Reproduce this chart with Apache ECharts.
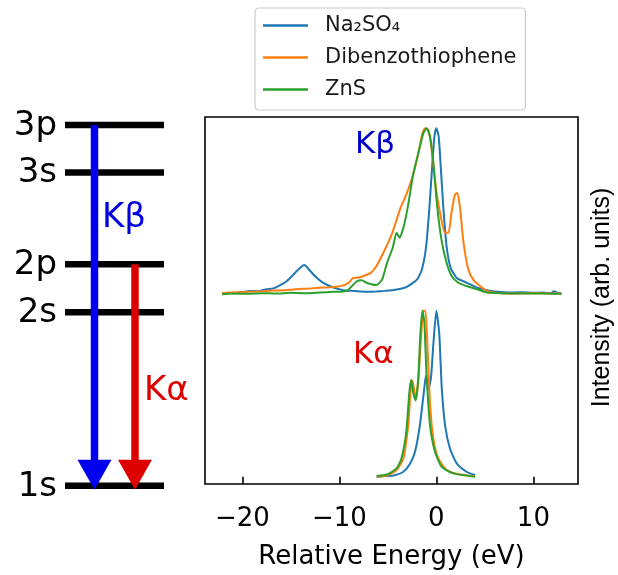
<!DOCTYPE html>
<html>
<head>
<meta charset="utf-8">
<script src="https://cdn.jsdelivr.net/npm/echarts@6/dist/echarts.min.js"></script>
<style>
  html, body { margin: 0; padding: 0; background: #fff; }
  #chart { width: 618px; height: 575px; }
</style>
</head>
<body>
<div id="chart"></div>
<script>
// Sulfur K-shell emission: Kβ spectra are stacked above the Kα spectra.
const seriesNames = ['Na\u2082SO\u2084', 'Dibenzothiophene', 'ZnS'];
const seriesColors = ['#1f77b4', '#ff7f0e', '#2ca02c'];
const xTicks = [-20, -10, 0, 10];
const kbOffset = 1.1;

// Kβ spectra (normalised intensity)
const naKbE = [-22.1, -21.5, -20.8, -20.0, -19.2, -18.4, -17.5, -16.8, -16.1, -15.4, -14.7, -14.1, -13.6, -13.2, -12.5, -11.7, -10.6, -9.6, -8.7, -7.9, -7.0, -6.2, -5.3, -4.4, -3.1, -2.0, -1.5, -1.07, -0.72, -0.41, -0.2, 0, 0.24, 0.45, 0.72, 1.07, 1.48, 2.1, 2.8, 3.5, 4.2, 5.2, 6.6, 8.0, 9.0, 10.0, 11.0, 11.8, 12.1, 12.5, 12.9];
const naKbI = [0.004, 0.008, 0.006, 0.012, 0.02, 0.018, 0.03, 0.035, 0.055, 0.08, 0.12, 0.157, 0.176, 0.153, 0.108, 0.07, 0.04, 0.024, 0.02, 0.016, 0.014, 0.016, 0.02, 0.025, 0.043, 0.088, 0.147, 0.28, 0.52, 0.79, 0.95, 1.0, 0.95, 0.77, 0.52, 0.28, 0.157, 0.098, 0.078, 0.059, 0.039, 0.024, 0.014, 0.01, 0.012, 0.008, 0.01, 0.006, 0.018, 0.008, 0.004];

const dbtKbE = [-22.1, -21.0, -19.2, -17.5, -15.8, -14.5, -13.0, -11.8, -10.6, -9.6, -9.0, -8.6, -8.0, -7.5, -6.8, -6.2, -5.5, -4.6, -3.7, -3.1, -2.4, -1.86, -1.44, -1.17, -0.82, -0.48, 0, 0.55, 0.9, 1.24, 1.58, 1.92, 2.16, 2.44, 2.78, 3.3, 3.8, 4.5, 5.2, 6.6, 8.0, 10.0, 12.0, 12.9];
const dbtKbI = [0.006, 0.01, 0.014, 0.02, 0.024, 0.03, 0.035, 0.04, 0.043, 0.053, 0.07, 0.098, 0.1, 0.11, 0.127, 0.167, 0.245, 0.36, 0.52, 0.6, 0.72, 0.85, 0.97, 1.0, 0.99, 0.87, 0.62, 0.44, 0.37, 0.37, 0.5, 0.6, 0.61, 0.52, 0.32, 0.147, 0.088, 0.049, 0.02, 0.006, 0.004, 0.006, 0.004, 0.004];

const znsKbE = [-22.1, -21.0, -19.5, -18.0, -16.5, -15.0, -13.5, -12.0, -10.6, -9.6, -9.1, -8.7, -8.2, -7.7, -7.2, -6.6, -6.2, -5.6, -5.1, -4.5, -4.1, -3.8, -3.4, -2.9, -2.4, -1.86, -1.34, -1.0, -0.65, -0.31, 0.1, 0.55, 1.07, 1.58, 2.27, 3.1, 4.2, 5.2, 7.0, 9.0, 11.0, 12.9];
const znsKbI = [0.0, 0.004, 0.002, 0.006, 0.004, 0.008, 0.006, 0.01, 0.014, 0.016, 0.025, 0.049, 0.078, 0.084, 0.069, 0.058, 0.055, 0.088, 0.186, 0.28, 0.37, 0.34, 0.4, 0.54, 0.72, 0.85, 0.97, 1.0, 0.95, 0.79, 0.52, 0.32, 0.186, 0.108, 0.069, 0.049, 0.03, 0.01, 0.006, 0.004, 0.004, 0.002];

// Kα spectra (normalised intensity)
const naKaE = [-6.15, -5.2, -4.4, -3.4, -2.7, -2.2, -1.7, -1.27, -1.07, -0.8, -0.55, -0.31, 0, 0.3, 0.55, 0.9, 1.4, 2.1, 3.1, 4.0];
const naKaI = [0, 0.004, 0.007, 0.03, 0.08, 0.15, 0.31, 0.52, 0.61, 0.53, 0.6, 0.8, 1.0, 0.86, 0.54, 0.31, 0.17, 0.08, 0.03, 0.01];

const dbtKaE = [-6.15, -5.1, -4.1, -3.4, -2.9, -2.65, -2.47, -2.27, -2.1, -1.86, -1.58, -1.34, -1.13, -0.93, -0.65, -0.31, 0.2, 1.07, 2.44, 4.0];
const dbtKaI = [0, 0.007, 0.04, 0.11, 0.31, 0.52, 0.58, 0.52, 0.47, 0.58, 0.84, 1.0, 1.0, 0.8, 0.44, 0.23, 0.11, 0.04, 0.013, 0.003];

const znsKaE = [-6.15, -5.1, -4.1, -3.6, -3.1, -2.8, -2.6, -2.37, -2.13, -1.86, -1.65, -1.44, -1.24, -1.0, -0.65, -0.14, 0.55, 1.75, 4.0];
const znsKaI = [0.004, 0.013, 0.05, 0.11, 0.27, 0.5, 0.585, 0.5, 0.46, 0.6, 0.86, 1.0, 0.93, 0.6, 0.31, 0.15, 0.06, 0.02, 0];

// Energy-level diagram
const levelNames = ['1s', '2s', '2p', '3s', '3p'];
const levelEnergy = [0, 0.481, 0.614, 0.868, 1];
const transitionNames = ['K\u03b2', 'K\u03b1'];
const transitionFrom = [1, 0.614];
const transitionTo = [0, 0];
const transitionPos = [0.298, 0.707];
const transitionColors = ['#0000ee', '#dd0000'];

const FONT = '"DejaVu Sans", sans-serif';

function zipXY(xs, ys, offset) {
  return xs.map((x, i) => [x, ys[i] + offset]);
}

const spectra = [
  [naKbE, naKbI, naKaE, naKaI],
  [dbtKbE, dbtKbI, dbtKaE, dbtKaI],
  [znsKbE, znsKbI, znsKaE, znsKaI]
];

const lineSeries = [];
spectra.forEach((s, k) => {
  const common = {
    type: 'line',
    name: seriesNames[k],
    xAxisIndex: 0,
    yAxisIndex: 0,
    showSymbol: false,
    symbol: 'none',
    smooth: 0.2,
    lineStyle: { color: seriesColors[k], width: 2 },
    itemStyle: { color: seriesColors[k] },
    animation: false,
    z: 2 + k
  };
  lineSeries.push(Object.assign({}, common, { data: zipXY(s[0], s[1], kbOffset) }));
  lineSeries.push(Object.assign({}, common, { data: zipXY(s[2], s[3], 0) }));
});

const levelSeries = {
  type: 'custom',
  xAxisIndex: 1,
  yAxisIndex: 1,
  animation: false,
  silent: true,
  z: 1,
  data: levelEnergy.map(e => [0.5, e]),
  renderItem: (params, api) => {
    const e = api.value(1);
    const a = api.coord([0, e]);
    const b = api.coord([1, e]);
    return {
      type: 'group',
      children: [
        { type: 'line', shape: { x1: a[0], y1: a[1], x2: b[0], y2: b[1] },
          style: { stroke: '#000', lineWidth: 6.5 } },
        { type: 'text', x: a[0] - 8, y: a[1] + 1,
          style: { text: levelNames[params.dataIndex], fontSize: 34, fontFamily: FONT,
                   fill: '#000', align: 'right', verticalAlign: 'middle' } }
      ]
    };
  }
};

const arrowSeries = {
  type: 'custom',
  xAxisIndex: 1,
  yAxisIndex: 1,
  animation: false,
  silent: true,
  z: 5,
  data: transitionPos.map((x, i) => [x, transitionFrom[i], transitionTo[i]]),
  renderItem: (params, api) => {
    const c = transitionColors[params.dataIndex];
    const top = api.coord([api.value(0), api.value(1)]);
    const bot = api.coord([api.value(0), api.value(2)]);
    const x = top[0];
    const tip = bot[1] + 4;
    const headH = 30, headW = 34;
    return {
      type: 'group',
      children: [
        { type: 'line', shape: { x1: x, y1: top[1], x2: x, y2: tip - headH + 2 },
          style: { stroke: c, lineWidth: 7.5 } },
        { type: 'polygon', shape: { points: [[x - headW / 2, tip - headH], [x + headW / 2, tip - headH], [x, tip]] },
          style: { fill: c } }
      ]
    };
  }
};

const chart = echarts.init(document.getElementById('chart'), null, { renderer: 'canvas' });
chart.setOption({
  animation: false,
  backgroundColor: '#fff',
  grid: [
    { left: 205, right: 40, top: 117, bottom: 82, show: true, borderColor: '#000', borderWidth: 1.6,
      backgroundColor: 'transparent' },
    { left: 65, width: 99, top: 125, height: 360.7, show: false }
  ],
  xAxis: [
    {
      gridIndex: 0, type: 'value', min: -23.85, max: 14.6,
      name: 'Relative Energy (eV)', nameLocation: 'middle', nameGap: 60,
      nameTextStyle: { fontSize: 26, fontFamily: FONT, color: '#000' },
      axisLine: { show: false },
      axisTick: { show: true, customValues: xTicks, length: 7, inside: false,
                  lineStyle: { color: '#000', width: 1.6 } },
      axisLabel: { customValues: xTicks, margin: 22, fontSize: 26, fontFamily: FONT, color: '#000',
                   formatter: v => (v < 0 ? '\u2212' + Math.abs(v) : String(v)) },
      splitLine: { show: false }
    },
    { gridIndex: 1, type: 'value', min: 0, max: 1, show: false }
  ],
  yAxis: [
    { gridIndex: 0, type: 'value', min: -0.044, max: 2.168,
      axisLine: { show: false }, axisTick: { show: false }, axisLabel: { show: false },
      splitLine: { show: false } },
    { gridIndex: 1, type: 'value', min: 0, max: 1, show: false }
  ],
  legend: {
    data: seriesNames.map((n, k) => ({ name: n, icon: 'rect', itemStyle: { color: seriesColors[k] } })),
    orient: 'vertical',
    left: 255,
    top: 8,
    padding: [7, 9, 10, 8],
    itemWidth: 45,
    itemHeight: 2.5,
    itemGap: 11,
    backgroundColor: '#fff',
    borderColor: '#cccccc',
    borderWidth: 1.2,
    borderRadius: 4,
    selectedMode: false,
    formatter: name => '{t|' + name + '}',
    textStyle: {
      rich: { t: { fontSize: 21, fontFamily: FONT, color: '#1a1a1a', padding: [0, 0, 0, 12] } }
    }
  },
  graphic: [
    { type: 'text', left: 355, top: 129, silent: true,
      style: { text: 'K\u03b2', fontSize: 31, fontFamily: FONT, fill: '#0000cc' } },
    { type: 'text', left: 353, top: 339, silent: true,
      style: { text: 'K\u03b1', fontSize: 31, fontFamily: FONT, fill: '#dd0000' } },
    { type: 'text', left: 102, top: 201, silent: true,
      style: { text: 'K\u03b2', fontSize: 34, fontFamily: FONT, fill: '#0000dd' } },
    { type: 'text', left: 144, top: 374, silent: true,
      style: { text: 'K\u03b1', fontSize: 34, fontFamily: FONT, fill: '#dd0000' } },
    { type: 'text', x: 602, y: 297.5, rotation: Math.PI / 2, silent: true,
      style: { text: 'Intensity (arb. units)', fontSize: 25, fontFamily: '"Liberation Sans", Arial, sans-serif',
               fill: '#000', align: 'center', verticalAlign: 'middle' } }
  ],
  series: lineSeries.concat([levelSeries, arrowSeries])
});
</script>
</body>
</html>
